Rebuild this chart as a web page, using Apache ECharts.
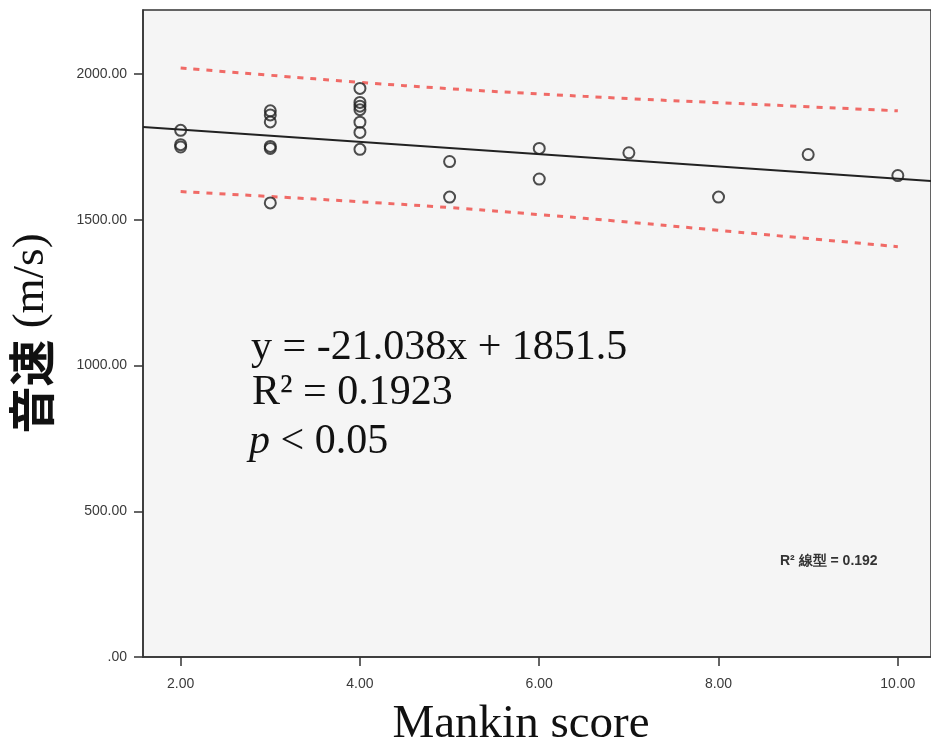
<!DOCTYPE html>
<html>
<head>
<meta charset="utf-8">
<script src="https://cdn.jsdelivr.net/npm/echarts@6/dist/echarts.min.js"></script>
<style>
html,body{margin:0;padding:0;background:#fff;}
#chart{width:931px;height:753px;}
</style>
</head>
<body>
<div id="chart"></div>
<script>
// ---- data ----
const pointsX = [2, 2, 2, 3, 3, 3, 3, 3, 3, 4, 4, 4, 4, 4, 4, 4, 5, 5, 6, 6, 7, 8, 9, 10];
const pointsY = [1807, 1758, 1750, 1874, 1860, 1836, 1752, 1745, 1558, 1951, 1903, 1890, 1878, 1835, 1800, 1742, 1700, 1578, 1745, 1640, 1730, 1578, 1724, 1652];
const bandX = [2, 3, 4, 5, 6, 7, 8, 9, 10];
const bandUpper = [2021, 1996, 1972, 1950, 1932, 1916, 1902, 1888, 1874];
const bandLower = [1597, 1580, 1562, 1542, 1518, 1492, 1464, 1436, 1408];
const slope = -21.038;
const intercept = 1851.5;
const xMin = 1.58, xMax = 10.37;
const yMin = 0, yMax = 2220;
const xTicks = [2, 4, 6, 8, 10];
const yTicks = [0, 500, 1000, 1500, 2000];
const eqLines = ['y = -21.038x + 1851.5', 'R² = 0.1923', '{i|p} < 0.05'];
const fitLabel = 'R² 線型 = 0.192';

const scatterData = pointsX.map((x, i) => [x, pointsY[i]]);
const upperData = bandX.map((x, i) => [x, bandUpper[i]]);
const lowerData = bandX.map((x, i) => [x, bandLower[i]]);
const fitData = [[xMin, intercept + slope * xMin], [xMax, intercept + slope * xMax]];

const chart = echarts.init(document.getElementById('chart'), null, {renderer: 'canvas'});
const serif = 'Liberation Serif';
const labelFont = 'Liberation Sans';

chart.setOption({
  animation: false,
  backgroundColor: '#ffffff',
  grid: {
    left: 143, top: 10, right: -3, bottom: 89,
    show: true, backgroundColor: '#f5f5f5', borderColor: '#333', borderWidth: 1.5
  },
  xAxis: {
    type: 'value', min: xMin, max: xMax,
    name: 'Mankin score', nameLocation: 'middle', nameGap: 44,
    nameTextStyle: {fontFamily: serif, fontSize: 47, color: '#111', padding: [0, 32, 0, 0]},
    axisLine: {show: true, onZero: false, lineStyle: {color: '#333', width: 1.5}},
    axisTick: {show: true, length: 9, customValues: xTicks, lineStyle: {color: '#333', width: 1.5}},
    axisLabel: {customValues: xTicks, margin: 20, fontFamily: labelFont, fontSize: 14, color: '#3a3a3a',
      formatter: v => v.toFixed(2)},
    splitLine: {show: false}
  },
  yAxis: {
    type: 'value', min: yMin, max: yMax,
    name: '{a|音速}{b| (m/s)}', nameLocation: 'middle', nameGap: 88, nameRotate: 90,
    nameTextStyle: {
      rich: {
        a: {fontFamily: 'Noto Sans CJK JP', fontWeight: 'bold', fontSize: 47, color: '#111'},
        b: {fontFamily: serif, fontSize: 45, color: '#111'}
      }
    },
    axisLine: {show: true, lineStyle: {color: '#333', width: 1.5}},
    axisTick: {show: true, length: 9, customValues: yTicks, lineStyle: {color: '#333', width: 1.5}},
    axisLabel: {customValues: yTicks, margin: 16, fontFamily: labelFont, fontSize: 14, color: '#3a3a3a',
      formatter: v => v === 0 ? '.00' : v.toFixed(2)},
    splitLine: {show: false}
  },
  series: [
    {
      name: 'upper', type: 'line', data: upperData, smooth: true, symbol: 'none',
      lineStyle: {color: '#f06a66', width: 3, type: [6, 7], cap: 'butt'}, z: 2
    },
    {
      name: 'lower', type: 'line', data: lowerData, smooth: true, symbol: 'none',
      lineStyle: {color: '#f06a66', width: 3, type: [6, 7], cap: 'butt'}, z: 2
    },
    {
      name: 'fit', type: 'line', data: fitData, symbol: 'none',
      lineStyle: {color: '#222', width: 2}, z: 3
    },
    {
      name: 'points', type: 'scatter', data: scatterData, symbol: 'circle', symbolSize: 11,
      itemStyle: {color: 'rgba(0,0,0,0)', borderColor: '#222', borderWidth: 2}, z: 4
    }
  ],
  graphic: [
    {type: 'text', left: 251, top: 327, style: {text: eqLines[0], font: '42px "Liberation Serif"', fill: '#111'}},
    {type: 'text', left: 252, top: 372, style: {text: eqLines[1], font: '42px "Liberation Serif"', fill: '#111'}},
    {type: 'text', left: 249, top: 421, style: {text: eqLines[2], font: '42px "Liberation Serif"', fill: '#111',
      rich: {i: {fontFamily: serif, fontStyle: 'italic', fontSize: 42, fill: '#111'}}}},
    {type: 'text', left: 780, top: 554, style: {text: fitLabel, font: 'bold 14px "Liberation Sans"', fill: '#333'}}
  ]
});
</script>
</body>
</html>
